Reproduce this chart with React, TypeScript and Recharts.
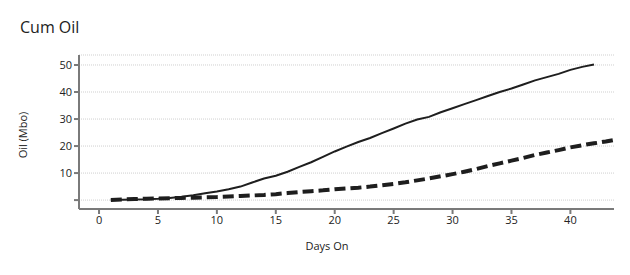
import { CartesianGrid, Line, LineChart, XAxis, YAxis } from 'recharts';

const days = [
  1, 2, 3, 4, 5, 6, 7, 8, 9, 10, 11, 12, 13, 14, 15, 16, 17, 18, 19, 20, 21, 22,
  23, 24, 25, 26, 27, 28, 29, 30, 31, 32, 33, 34, 35, 36, 37, 38, 39, 40, 41, 42,
  43, 44,
];

const cumOilActual = [
  0, 0.1, 0.2, 0.3, 0.5, 0.8, 1.2, 1.8, 2.5, 3.2, 4, 5, 6.5, 8, 9, 10.5, 12.3,
  14, 16, 18, 19.8, 21.5, 23, 24.8, 26.5, 28.3, 29.8, 30.8, 32.5, 34, 35.5, 37,
  38.5, 40, 41.3, 42.8, 44.3, 45.5, 46.7, 48.2, 49.3, 50.2,
];

const cumOilType = [
  0, 0.2, 0.4, 0.5, 0.6, 0.7, 0.8, 0.9, 1.0, 1.1, 1.3, 1.5, 1.7, 1.9, 2.2, 2.6,
  3.0, 3.3, 3.6, 4.0, 4.3, 4.6, 5.0, 5.5, 6.0, 6.6, 7.3, 8.0, 8.8, 9.6, 10.5,
  11.5, 12.6, 13.6, 14.6, 15.6, 16.7, 17.6, 18.5, 19.5, 20.3, 21.0, 21.7, 22.5,
];

const xTicks = [0, 5, 10, 15, 20, 25, 30, 35, 40];
const yTicks = [0, 10, 20, 30, 40, 50];

const data = days.map((d, i) => ({
  day: d,
  actual: cumOilActual[i],
  type: cumOilType[i],
}));

const font = "'Open Sans', 'Noto Sans', sans-serif";
const axisColor = '#7a7a7a';

export default function App() {
  return (
    <div style={{ position: 'absolute', left: 0, top: 0, width: 630, height: 275, fontFamily: font }}>
      <div style={{ position: 'absolute', left: 20, top: 16, fontSize: 16, color: '#222' }}>Cum Oil</div>
      <LineChart
        width={630}
        height={275}
        data={data}
        margin={{ top: 55, right: 16, bottom: 24, left: 0 }}
      >
        <CartesianGrid
          vertical={false}
          stroke="#cfcfcf"
          strokeDasharray="1 1"
        />
        <XAxis
          dataKey="day"
          type="number"
          domain={[-1.7, 43.7]}
          ticks={xTicks}
          allowDataOverflow
          height={42}
          stroke={axisColor}
          strokeWidth={2}
          tickSize={5}
          tick={{ fontSize: 11, fill: '#222', fontFamily: font }}
          label={{
            content: () => (
              <text x={327} y={250} textAnchor="middle" fontSize={11} fill="#222" fontFamily={font}>
                Days On
              </text>
            ),
          }}
        />
        <YAxis
          type="number"
          domain={[-3.3, 53.7]}
          ticks={yTicks}
          allowDataOverflow
          width={79}
          stroke={axisColor}
          strokeWidth={2}
          tickSize={5}
          tickFormatter={(v) => (v === 0 ? '' : String(v))}
          tick={{ fontSize: 11, fill: '#222', fontFamily: font }}
          label={{
            content: () => (
              <text
                x={27}
                y={135}
                transform="rotate(-90 27 135)"
                textAnchor="middle"
                fontSize={11}
                fill="#222"
                fontFamily={font}
              >
                Oil (Mbo)
              </text>
            ),
          }}
        />
        <Line
          type="linear"
          dataKey="actual"
          stroke="#1e1e1e"
          strokeWidth={2}
          dot={false}
          isAnimationActive={false}
        />
        <Line
          type="linear"
          dataKey="type"
          stroke="#1e1e1e"
          strokeWidth={4}
          strokeDasharray="11 5"
          dot={false}
          isAnimationActive={false}
        />
      </LineChart>
    </div>
  );
}
